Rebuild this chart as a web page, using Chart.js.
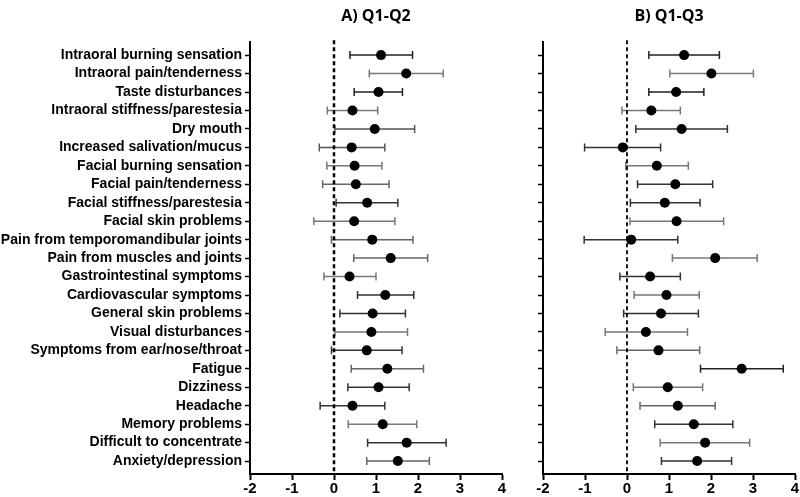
<!DOCTYPE html>
<html>
<head>
<meta charset="utf-8">
<script src="https://cdn.jsdelivr.net/npm/chart.js@4"></script>
<style>
  body { margin: 0; background: #fff; width: 800px; height: 497px; position: relative; overflow: hidden; }
  .panel { position: absolute; top: 0; height: 497px; }
  #wrapA { left: 0; width: 520px; }
  #wrapB { left: 520px; width: 280px; }
</style>
</head>
<body>
<div class="panel" id="wrapA"><canvas id="chartA" width="520" height="497"></canvas></div>
<div class="panel" id="wrapB"><canvas id="chartB" width="280" height="497"></canvas></div>
<script>
// symptom categories, top to bottom
const symptoms = [
    'Intraoral burning sensation', 'Intraoral pain/tenderness', 'Taste disturbances',
    'Intraoral stiffness/parestesia', 'Dry mouth', 'Increased salivation/mucus',
    'Facial burning sensation', 'Facial pain/tenderness', 'Facial stiffness/parestesia',
    'Facial skin problems', 'Pain from temporomandibular joints', 'Pain from muscles and joints',
    'Gastrointestinal symptoms', 'Cardiovascular symptoms', 'General skin problems',
    'Visual disturbances', 'Symptoms from ear/nose/throat', 'Fatigue', 'Dizziness',
    'Headache', 'Memory problems', 'Difficult to concentrate', 'Anxiety/depression'
];

// A) Q1-Q2
const q12Mean = [1.12, 1.72, 1.06, 0.44, 0.97, 0.42, 0.49, 0.52, 0.79, 0.48, 0.91, 1.35, 0.37, 1.22, 0.92, 0.89, 0.78, 1.27, 1.06, 0.44, 1.16, 1.73, 1.52];
const q12Low  = [0.38, 0.84, 0.48, -0.16, 0.02, -0.35, -0.17, -0.27, 0.05, -0.48, -0.06, 0.47, -0.24, 0.56, 0.14, 0.02, -0.06, 0.41, 0.33, -0.33, 0.34, 0.80, 0.78];
const q12High = [1.87, 2.60, 1.63, 1.04, 1.92, 1.21, 1.14, 1.31, 1.52, 1.45, 1.88, 2.23, 1.00, 1.90, 1.70, 1.75, 1.62, 2.13, 1.79, 1.21, 1.97, 2.67, 2.27];

// B) Q1-Q3
const q13Mean = [1.36, 2.01, 1.17, 0.58, 1.30, -0.10, 0.71, 1.15, 0.90, 1.18, 0.10, 2.10, 0.55, 0.94, 0.81, 0.45, 0.75, 2.73, 0.97, 1.21, 1.59, 1.86, 1.67];
const q13Low  = [0.52, 1.02, 0.52, -0.12, 0.21, -1.01, -0.03, 0.25, 0.08, 0.07, -1.02, 1.08, -0.17, 0.17, -0.08, -0.52, -0.24, 1.75, 0.15, 0.31, 0.66, 0.79, 0.82];
const q13High = [2.20, 3.01, 1.83, 1.27, 2.39, 0.80, 1.46, 2.04, 1.74, 2.30, 1.21, 3.10, 1.27, 1.72, 1.70, 1.44, 1.73, 3.72, 1.80, 2.10, 2.52, 2.92, 2.49];

const xTicks = [-2, -1, 0, 1, 2, 3, 4];

// whisker shades (the original mixes dark and grey bars)
const shadeA = ['#222', '#777', '#222', '#777', '#555', '#555', '#777', '#666', '#333', '#777', '#666', '#666', '#777', '#333', '#333', '#777', '#333', '#666', '#333', '#333', '#777', '#333', '#666'];
const shadeB = ['#222', '#777', '#222', '#777', '#333', '#333', '#777', '#333', '#333', '#777', '#333', '#777', '#333', '#777', '#333', '#777', '#666', '#222', '#777', '#666', '#333', '#777', '#333'];

const labelFont = { family: "'Liberation Sans', Arial, sans-serif", size: 14, weight: 'bold' };

// whiskers + dashed zero line, drawn through the chart's scales
const errorBars = {
    id: 'errorBars',
    beforeDatasetsDraw(chart, args, opts) {
        const { ctx, chartArea } = chart;
        const x = chart.scales.x, y = chart.scales.y;
        ctx.save();
        ctx.lineWidth = 1.5;
        opts.low.forEach((lo, i) => {
            const py = y.getPixelForValue(i);
            const x1 = x.getPixelForValue(lo);
            const x2 = x.getPixelForValue(opts.high[i]);
            ctx.strokeStyle = opts.colors[i];
            ctx.beginPath();
            ctx.moveTo(x1, py); ctx.lineTo(x2, py);
            ctx.moveTo(x1, py - 4); ctx.lineTo(x1, py + 4);
            ctx.moveTo(x2, py - 4); ctx.lineTo(x2, py + 4);
            ctx.stroke();
        });
        const zx = x.getPixelForValue(0);
        ctx.strokeStyle = '#000';
        ctx.lineWidth = opts.zeroWidth;
        ctx.setLineDash([4, 3]);
        ctx.beginPath();
        ctx.moveTo(zx, chartArea.top - 2);
        ctx.lineTo(zx, chartArea.bottom);
        ctx.stroke();
        ctx.restore();
    }
};

function makePanel(canvasId, title, mean, low, high, shades, yWidth, padRight, showLabels, zeroWidth) {
    return new Chart(document.getElementById(canvasId), {
        type: 'scatter',
        data: {
            datasets: [{
                data: mean.map((m, i) => ({ x: m, y: i })),
                backgroundColor: '#000',
                borderWidth: 0,
                pointRadius: 5
            }]
        },
        options: {
            responsive: false,
            animation: false,
            layout: { padding: { left: 0, right: padRight, top: 0, bottom: 0 } },
            plugins: {
                legend: { display: false },
                tooltip: { enabled: false },
                title: {
                    display: true,
                    text: title,
                    fullSize: false,
                    color: '#000',
                    font: { family: "'Open Sans', sans-serif", size: 16, weight: 'bold' },
                    padding: { top: 7, bottom: 16 }
                },
                errorBars: { low: low, high: high, colors: shades, zeroWidth: zeroWidth }
            },
            scales: {
                x: {
                    type: 'linear',
                    min: xTicks[0],
                    max: xTicks[xTicks.length - 1],
                    afterBuildTicks: s => { s.ticks = xTicks.map(v => ({ value: v })); },
                    afterFit: s => { s.height = 23; },
                    ticks: { color: '#000', font: { family: "'Liberation Sans', Arial, sans-serif", size: 15, weight: 'bold' }, padding: 0 },
                    grid: { drawOnChartArea: false, drawTicks: true, tickLength: 6, tickColor: '#000', tickWidth: 2 },
                    border: { color: '#000', width: 2 }
                },
                y: {
                    type: 'linear',
                    reverse: true,
                    min: -0.7,
                    max: symptoms.length - 0.3,
                    afterBuildTicks: s => { s.ticks = symptoms.map((_, i) => ({ value: i })); },
                    afterFit: s => { s.width = yWidth; },
                    ticks: {
                        autoSkip: false,
                        color: '#000',
                        font: labelFont,
                        padding: 3,
                        callback: v => showLabels ? symptoms[v] : ''
                    },
                    grid: { drawOnChartArea: false, drawTicks: true, tickLength: 5, tickColor: '#000', tickWidth: 1.5 },
                    border: { color: '#000', width: 2 }
                }
            }
        },
        plugins: [errorBars]
    });
}

makePanel('chartA', 'A) Q1-Q2', q12Mean, q12Low, q12High, shadeA, 250, 18, true, 2.5);
makePanel('chartB', 'B) Q1-Q3', q13Mean, q13Low, q13High, shadeB, 23, 5, false, 1.8);
</script>
</body>
</html>
